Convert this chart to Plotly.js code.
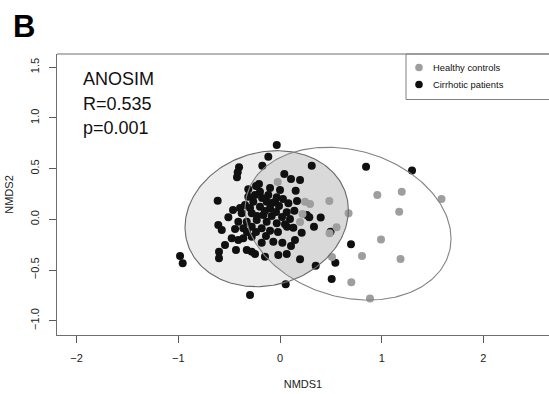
<!DOCTYPE html>
<html>
<head>
<meta charset="utf-8">
<script src="https://cdn.plot.ly/plotly-3.0.1.min.js"></script>
<style>
  html, body { margin: 0; padding: 0; background: #fff; }
  #chart { width: 549px; height: 394px; }
</style>
</head>
<body>
<div id="chart"></div>
<script>
// NMDS ordination scores (axis 1 / axis 2) per sample
const groupNames = ["Healthy controls", "Cirrhotic patients"];

const healthyX = [-0.023, 0.246, 0.295, 0.485, 0.221, 0.197, 0.674, 0.556, 0.487, 0.957,
  1.197, 1.588, 1.172, 0.993, 0.806, 1.185, 0.701, 0.885, 0.511];
const healthyY = [0.368, 0.174, 0.151, 0.180, 0.052, -0.027, 0.059, -0.079, -0.138, 0.240,
  0.272, 0.200, 0.075, -0.199, -0.362, -0.392, -0.621, -0.781, -0.372];

const cirrhoticX = [-0.403, -0.416, -0.423, -0.174, 0.042, 0.108, 0.197, -0.207, -0.613, -0.312,
  -0.197, -0.115, -0.032, -0.312, -0.263, -0.131, -0.049, -0.344, -0.197, -0.098,
  -0.010, 0.082, 0.066, 0.141, 0.263, -0.377, -0.278, -0.164, -0.082, -0.508,
  -0.410, -0.327, -0.229, -0.131, -0.032, 0.049, 0.131, -0.607, -0.573, -0.361,
  -0.278, -0.180, -0.098, -0.475, -0.410, -0.361, -0.278, -0.180, -0.066, 0.023,
  0.213, -0.600, -0.600, -0.327, -0.278, -0.246, -0.148, -0.017, 0.066, -0.032,
  -0.115, 0.312, 0.846, 1.298, 0.154, -0.983, -0.957, 0.197, 0.351, 0.056,
  -0.295, 0.508, 0.544, 0.698, 0.497, 0.400, 0.334, 0.288, 0.147, 0.069,
  -0.246, -0.177, -0.079, 0.029, -0.295, -0.148, -0.039, -0.226, 0.020, -0.325,
  -0.236, -0.138, -0.020, 0.098, -0.442, -0.393, -0.236, -0.098, 0.000, -0.462,
  -0.541, -0.433, 0.108, 0.167];
const cirrhoticY = [0.513, 0.464, 0.414, 0.529, 0.447, 0.397, 0.388, 0.348, 0.183, 0.296,
  0.272, 0.240, 0.217, 0.223, 0.174, 0.174, 0.174, 0.141, 0.124, 0.108,
  0.131, 0.158, 0.069, 0.085, 0.042, 0.059, 0.059, 0.042, 0.033, 0.020,
  -0.024, -0.024, -0.007, -0.024, -0.039, -0.049, -0.083, -0.056, -0.106, -0.089,
  -0.073, -0.089, -0.112, -0.187, -0.204, -0.187, -0.172, -0.231, -0.221, -0.231,
  -0.132, -0.320, -0.385, -0.303, -0.320, -0.342, -0.369, -0.352, -0.342, 0.733,
  0.617, 0.529, 0.519, 0.481, 0.282, -0.362, -0.434, -0.394, -0.458, -0.641,
  -0.747, -0.589, -0.428, -0.247, -0.122, 0.018, -0.073, 0.020, -0.204, -0.073,
  0.240, 0.210, 0.161, 0.200, 0.111, 0.082, 0.072, 0.033, 0.023, -0.125,
  -0.125, -0.165, -0.125, 0.003, -0.096, 0.111, 0.328, 0.309, 0.289, 0.092,
  -0.253, -0.303, -0.263, 0.180];

// Group dispersion ellipses: centre and covariance [sxx, syy, sxy]
const healthyEllipse = { center: [0.669, -0.043], cov: [1.026, 0.567, -0.150] };
const cirrhoticEllipse = { center: [-0.131, 0.006], cov: [0.645, 0.450, 0.068] };

// ANOSIM test result
const anosimR = 0.535;
const anosimP = 0.001;

const xTicks = [-2, -1, 0, 1, 2];
const yTicks = [-1.0, -0.5, 0.0, 0.5, 1.0, 1.5];

// ---------------------------------------------------------------
const W = 549, H = 394;
const M = { l: 57, r: 0, t: 54, b: 59 };
const FONT = "Liberation Sans, Arial, Helvetica, sans-serif";
const px2x = p => (p - M.l) / (W - M.l - M.r);
const px2y = p => (H - M.b - p) / (H - M.t - M.b);

function ellipsePath(e, n) {
  const [sxx, syy, sxy] = e.cov;
  const l11 = Math.sqrt(sxx), l21 = sxy / l11, l22 = Math.sqrt(syy - l21 * l21);
  const xs = [], ys = [];
  for (let i = 0; i <= n; i++) {
    const t = 2 * Math.PI * i / n;
    xs.push(e.center[0] + l11 * Math.cos(t));
    ys.push(e.center[1] + l21 * Math.cos(t) + l22 * Math.sin(t));
  }
  return { x: xs, y: ys };
}

function inside(e, x, y) {
  const [sxx, syy, sxy] = e.cov;
  const det = sxx * syy - sxy * sxy;
  const dx = x - e.center[0], dy = y - e.center[1];
  return (syy * dx * dx - 2 * sxy * dx * dy + sxx * dy * dy) / det <= 1;
}

// overlap of the two convex ellipses as one polygon
function overlap(a, b, n) {
  const pa = ellipsePath(a, n), pb = ellipsePath(b, n);
  const pts = [];
  for (let i = 0; i < n; i++) {
    if (inside(b, pa.x[i], pa.y[i])) pts.push([pa.x[i], pa.y[i]]);
    if (inside(a, pb.x[i], pb.y[i])) pts.push([pb.x[i], pb.y[i]]);
  }
  const cx = pts.reduce((s, p) => s + p[0], 0) / pts.length;
  const cy = pts.reduce((s, p) => s + p[1], 0) / pts.length;
  pts.sort((p, q) => Math.atan2(p[1] - cy, p[0] - cx) - Math.atan2(q[1] - cy, q[0] - cx));
  pts.push(pts[0]);
  return { x: pts.map(p => p[0]), y: pts.map(p => p[1]) };
}

const cirPath = ellipsePath(cirrhoticEllipse, 240);
const hePath = ellipsePath(healthyEllipse, 240);
const lens = overlap(cirrhoticEllipse, healthyEllipse, 720);

const BLACK = "rgb(16,16,16)";
const GREY = "rgb(158,158,158)";

const traces = [
  { x: cirPath.x, y: cirPath.y, mode: "lines", fill: "toself",
    fillcolor: "rgba(0,0,0,0.075)", line: { width: 0 }, hoverinfo: "skip" },
  { x: lens.x, y: lens.y, mode: "lines", fill: "toself",
    fillcolor: "rgba(0,0,0,0.08)", line: { width: 0 }, hoverinfo: "skip" },
  { x: cirrhoticX, y: cirrhoticY, name: groupNames[1], mode: "markers",
    marker: { color: BLACK, size: 8, line: { width: 0 } } },
  { x: healthyX, y: healthyY, name: groupNames[0], mode: "markers",
    marker: { color: GREY, size: 8, line: { width: 0 } } },
  { x: cirPath.x, y: cirPath.y, mode: "lines",
    line: { color: "rgb(105,105,105)", width: 1.1 }, hoverinfo: "skip" },
  { x: hePath.x, y: hePath.y, mode: "lines",
    line: { color: "rgb(130,130,130)", width: 1.1 }, hoverinfo: "skip" }
];

const statLines = ["ANOSIM", "R=" + anosimR.toFixed(3), "p=" + anosimP.toFixed(3)];
const statY = [79, 104, 128];

const annotations = [
  { text: "<b>B</b>", xref: "paper", yref: "paper", x: px2x(11), y: px2y(26),
    xanchor: "left", yanchor: "middle", showarrow: false,
    font: { family: FONT, size: 31, color: "#000" } }
];
statLines.forEach((s, i) => annotations.push({
  text: s, xref: "paper", yref: "paper", x: px2x(81), y: px2y(statY[i]),
  xanchor: "left", yanchor: "middle", showarrow: false,
  font: { family: FONT, size: 18, color: "#111" }
}));
[GREY, BLACK].forEach((c, i) => annotations.push({
  text: groupNames[i], xref: "paper", yref: "paper", x: px2x(431), y: px2y(67.5 + 17 * i),
  xanchor: "left", yanchor: "middle", showarrow: false,
  font: { family: FONT, size: 9.4, color: "#111" }
}));

const shapes = [
  // top edge of the plot frame
  { type: "line", xref: "paper", yref: "paper", x0: 0, x1: 1, y0: 1, y1: 1,
    line: { color: "rgb(110,110,110)", width: 1 } },
  // legend frame
  { type: "rect", xref: "paper", yref: "paper", x0: px2x(406), x1: 1.05, y0: px2y(99.5), y1: 1,
    line: { color: "rgb(130,130,130)", width: 1 }, fillcolor: "rgba(0,0,0,0)" }
];
[GREY, BLACK].forEach((c, i) => shapes.push({
  type: "circle", xref: "paper", yref: "paper", xsizemode: "pixel", ysizemode: "pixel",
  xanchor: px2x(419), yanchor: px2y(67.5 + 17 * i), x0: -3.8, x1: 3.8, y0: -3.8, y1: 3.8,
  fillcolor: c, line: { width: 0 }
}));

const layout = {
  width: W, height: H,
  margin: M,
  paper_bgcolor: "#fff", plot_bgcolor: "#fff",
  showlegend: false,
  font: { family: FONT, color: "#222" },
  xaxis: {
    range: [-2.193, 2.645], tickvals: xTicks, ticktext: xTicks.map(v => v < 0 ? "\u2212" + (-v) : String(v)),
    ticks: "outside", ticklen: 7, tickcolor: "rgb(90,90,90)", tickwidth: 1,
    showline: true, linecolor: "rgb(110,110,110)", linewidth: 1,
    showgrid: false, zeroline: false, ticklabelstandoff: 6,
    tickfont: { family: FONT, size: 11, color: "#222" },
    title: { text: "NMDS1", font: { family: FONT, size: 11, color: "#222" }, standoff: 17 }
  },
  yaxis: {
    range: [-1.141, 1.630], tickvals: yTicks, ticktext: yTicks.map(v => (v < 0 ? "\u2212" : "") + Math.abs(v).toFixed(1)),
    ticks: "outside", ticklen: 7, tickcolor: "rgb(90,90,90)", tickwidth: 1,
    showline: true, linecolor: "rgb(110,110,110)", linewidth: 1,
    showgrid: false, zeroline: false, tickangle: -90, ticklabelstandoff: 6,
    tickfont: { family: FONT, size: 11, color: "#222" },
    title: { text: "NMDS2", font: { family: FONT, size: 11, color: "#222" }, standoff: 12 }
  },
  annotations: annotations,
  shapes: shapes
};

Plotly.newPlot("chart", traces, layout, { staticPlot: true, displayModeBar: false });
</script>
</body>
</html>
